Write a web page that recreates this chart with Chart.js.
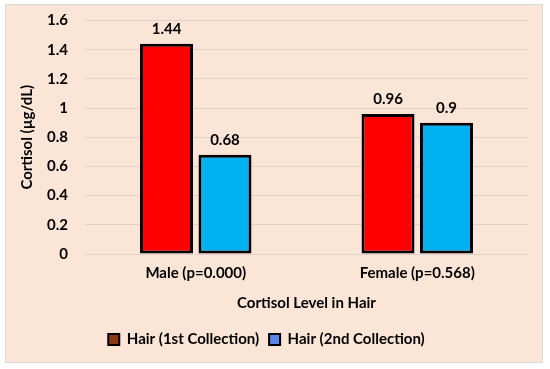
<!DOCTYPE html>
<html>
<head>
<meta charset="utf-8">
<script src="https://cdn.jsdelivr.net/npm/chart.js@4.4.0/dist/chart.umd.min.js"></script>
<style>
  html, body { margin: 0; padding: 0; background: #fff; }
  #wrap { width: 550px; height: 369px; }
</style>
</head>
<body>
<div id="wrap"><canvas id="chart" width="550" height="369"></canvas></div>
<script>
  // data
  const categories = ["Male (p=0.000)", "Female (p=0.568)"];
  const firstCollection = [1.44, 0.96];
  const secondCollection = [0.68, 0.9];
  const seriesNames = ["Hair (1st Collection)", "Hair (2nd Collection)"];

  const FONT = "Lato";

  // peach panel behind everything
  const panelBg = {
    id: "panelBg",
    beforeDraw(chart) {
      const ctx = chart.ctx;
      ctx.save();
      ctx.fillStyle = "#FBE5D6";
      ctx.fillRect(5, 4, 538, 359);
      ctx.strokeStyle = "#D9D9D9";
      ctx.lineWidth = 1;
      ctx.strokeRect(5.5, 4.5, 537, 358);
      ctx.restore();
    }
  };

  // value labels over bars
  const valueLabels = {
    id: "valueLabels",
    afterDatasetsDraw(chart) {
      const ctx = chart.ctx;
      ctx.save();
      ctx.font = "bold 15px " + FONT;
      ctx.fillStyle = "#000";
      ctx.textAlign = "center";
      ctx.textBaseline = "middle";
      chart.data.datasets.forEach((ds, i) => {
        chart.getDatasetMeta(i).data.forEach((bar, j) => {
          ctx.fillText(String(ds.data[j]), bar.x, bar.y - 15);
        });
      });
      ctx.restore();
    }
  };

  new Chart(document.getElementById("chart"), {
    type: "bar",
    data: {
      labels: categories,
      datasets: [
        {
          label: seriesNames[0],
          data: firstCollection,
          backgroundColor: "#FF0000",
          borderColor: "#000",
          borderWidth: 3,
          borderSkipped: false,
          categoryPercentage: 0.528,
          barPercentage: 0.906
        },
        {
          label: seriesNames[1],
          data: secondCollection,
          backgroundColor: "#00B0F0",
          borderColor: "#000",
          borderWidth: 3,
          borderSkipped: false,
          categoryPercentage: 0.528,
          barPercentage: 0.906
        }
      ]
    },
    options: {
      responsive: false,
      animation: false,
      layout: { padding: { left: 5, right: 22, top: 20.5, bottom: 12 } },
      plugins: {
        tooltip: { enabled: false },
        legend: {
          position: "bottom",
          labels: {
            color: "#000",
            font: { family: FONT, size: 15, weight: "bold" },
            boxWidth: 11,
            boxHeight: 11,
            padding: 10,
            generateLabels() {
              const swatch = ["#8B3A14", "#5B86E6"];
              return seriesNames.map((name, i) => ({
                text: name,
                fillStyle: swatch[i],
                strokeStyle: "#000",
                lineWidth: 2,
                datasetIndex: i
              }));
            }
          }
        }
      },
      scales: {
        x: {
          grid: { display: false },
          border: { display: false },
          ticks: {
            color: "#000",
            font: { family: FONT, size: 15, weight: "bold" },
            padding: 2
          },
          title: {
            display: true,
            text: "Cortisol Level in Hair",
            color: "#000",
            font: { family: FONT, size: 15, weight: "bold" },
            padding: { top: 10, bottom: 10 }
          },
          afterFit(scale) { scale.height = 68; }
        },
        y: {
          min: 0,
          max: 1.6,
          grid: { color: "#E3CFCB", drawTicks: false },
          border: { display: false },
          ticks: {
            stepSize: 0.2,
            color: "#000",
            font: { family: FONT, size: 15, weight: "bold" },
            padding: 17,
            callback: (v) => String(Math.round(v * 10) / 10)
          },
          title: {
            display: true,
            text: "Cortisol (µg/dL)",
            color: "#000",
            font: { family: FONT, size: 15, weight: "bold" },
            padding: { top: 13, bottom: 13 }
          },
          afterFit(scale) {
            scale.width = 80;
            // the tall rotated title was pushing the plot top down
            scale.paddingTop = 0;
            scale.paddingBottom = 0;
          }
        }
      }
    },
    plugins: [panelBg, valueLabels]
  });
</script>
</body>
</html>
